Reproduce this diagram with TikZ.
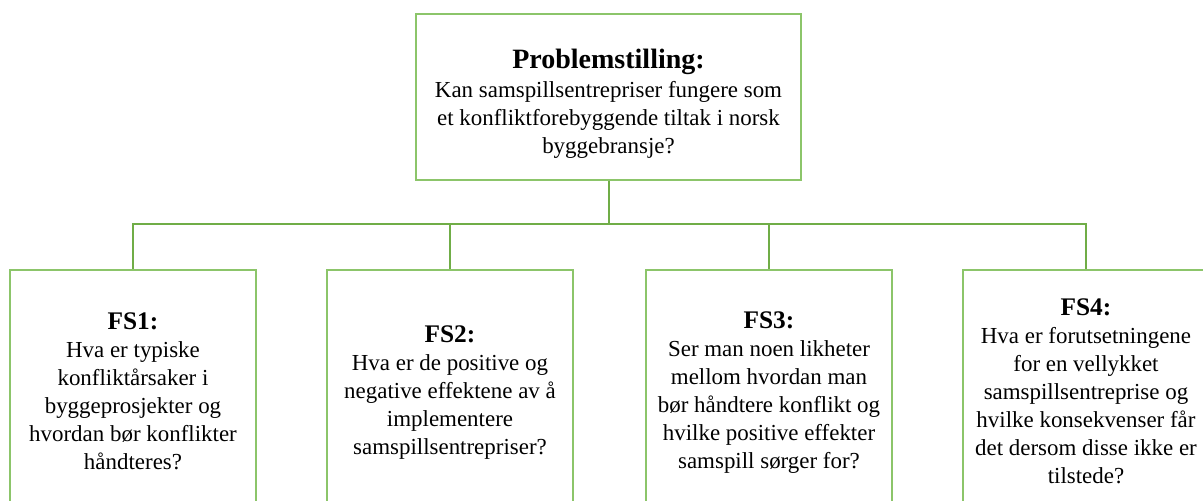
\documentclass[tikz,border=0pt]{standalone}
\usepackage{fontspec}
\setmainfont{Liberation Serif}
\usetikzlibrary{calc}
\definecolor{linkgreen}{HTML}{70AD47}
\definecolor{boxgreen}{HTML}{8CC56A}
% heading fonts inside the boxes
\newcommand{\roothead}[1]{{\fontsize{21}{24}\selectfont\bfseries #1}}
\newcommand{\qhead}[1]{{\fontsize{19}{21}\selectfont\bfseries #1}}
\begin{document}
\begin{tikzpicture}[x=0.75pt,y=-0.75pt,
  bodytext/.style={font=\fontsize{17.2}{21}\selectfont, align=center, inner sep=0pt},
  rootbox/.style={draw=boxgreen, line width=0.9pt, rectangle, inner sep=0pt,
    minimum width=288.75pt, minimum height=124.5pt},
  qbox/.style={draw=boxgreen, line width=0.9pt, rectangle, inner sep=0pt,
    minimum width=184.5pt, minimum height=180pt},
  link/.style={draw=linkgreen, line width=1.5pt}]
\clip (0,0) rectangle (1203,500);
\fill[white] (0,0) rectangle (1203,500);

% research problem
\node[rootbox] (top) at (608.5,97) {};
\node[bodytext] (toptext) at ($(top.center)+(0,7)$)
  {\roothead{Problemstilling:}\\[0.8pt]
   Kan samspillsentrepriser fungere som\\
   et konfliktforebyggende tiltak i norsk\\
   byggebransje?};

% research questions
\node[qbox] (fs1) at (133,390) {};
\node[qbox] (fs2) at (450,390) {};
\node[qbox] (fs3) at (769,390) {};
\node[qbox] (fs4) at (1086,390) {};

\node[bodytext] (fs1text) at ($(fs1.center)+(0,1)$)
  {\qhead{FS1:}\\
   Hva er typiske\\ konfliktårsaker i\\ byggeprosjekter og\\
   hvordan bør konflikter\\ håndteres?};
\node[bodytext] (fs2text) at ($(fs2.center)+(0,3)$)
  {\qhead{FS2:}\\
   Hva er de positive og\\ negative effektene av å\\ implementere\\
   samspillsentrepriser?};
\node[bodytext] (fs3text) at ($(fs3.center)+(0,3)$)
  {\qhead{FS3:}\\
   Ser man noen likheter\\ mellom hvordan man\\ bør håndtere konflikt og\\
   hvilke positive effekter\\ samspill sørger for?};
\node[bodytext] (fs4text) at ($(fs4.center)+(0,1)$)
  {\qhead{FS4:}\\
   Hva er forutsetningene\\ for en vellykket\\ samspillsentreprise og\\
   hvilke konsekvenser får\\ det dersom disse ikke er\\ tilstede?};

% tree connectors
\coordinate (bar) at ($(top.south)+(0,43)$);
\draw[link] (top.south) -- (bar);
\draw[link] (bar) -| (fs1.north);
\draw[link] (bar) -| (fs2.north);
\draw[link] (bar) -| (fs3.north);
\draw[link] (bar) -| (fs4.north);
\end{tikzpicture}
\end{document}
